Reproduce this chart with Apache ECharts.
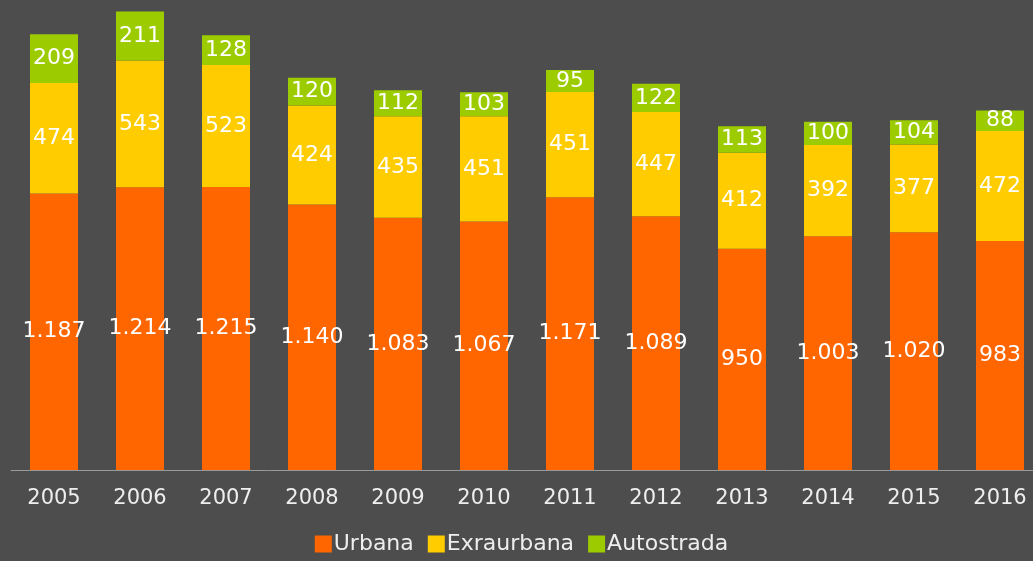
<!DOCTYPE html>
<html>
<head>
<meta charset="utf-8">
<script src="https://cdn.jsdelivr.net/npm/echarts@6/dist/echarts.min.js"></script>
<style>
html, body { margin: 0; padding: 0; background: #4d4d4d; overflow: hidden; }
/* l'ultima colonna esce un po' dal bordo destro, come nell'originale */
#chart { width: 1043px; height: 561px; }
</style>
</head>
<body>
<div id="chart"></div>
<script>
var anni = ['2005', '2006', '2007', '2008', '2009', '2010', '2011', '2012', '2013', '2014', '2015', '2016'];
var urbana = [1187, 1214, 1215, 1140, 1083, 1067, 1171, 1089, 950, 1003, 1020, 983];
var extraurbana = [474, 543, 523, 424, 435, 451, 451, 447, 412, 392, 377, 472];
var autostrada = [209, 211, 128, 120, 112, 103, 95, 122, 113, 100, 104, 88];

// separatore migliaia col punto
var fmt = function (p) {
    var s = String(p.value);
    return s.replace(/\B(?=(\d{3})+(?!\d))/g, '.');
};

var chart = echarts.init(document.getElementById('chart'));

var labelStyle = {
    show: true,
    position: 'inside',
    color: '#fff',
    fontFamily: 'DejaVu Sans',
    fontSize: 22,
    formatter: fmt
};

option = {
    backgroundColor: '#4d4d4d',
    animation: false,
    grid: {
        left: 11,
        right: 0,
        top: 4,
        bottom: 91,
        containLabel: false
    },
    legend: {
        bottom: 1,
        left: 'center',
        icon: 'rect',
        itemWidth: 17,
        itemHeight: 17,
        itemGap: 14,
        textStyle: {
            color: '#eee',
            fontFamily: 'DejaVu Sans',
            fontSize: 22,
            padding: [0, 0, 0, -3]
        },
        data: ['Urbana', 'Exraurbana', 'Autostrada']
    },
    xAxis: {
        type: 'category',
        data: anni,
        axisLine: { lineStyle: { color: '#999', width: 1 } },
        axisTick: { show: false },
        axisLabel: {
            color: '#eee',
            fontFamily: 'DejaVu Sans',
            fontSize: 21,
            margin: 18
        }
    },
    yAxis: {
        type: 'value',
        min: 0,
        max: 2000,
        show: false,
        splitLine: { show: false }
    },
    series: [
        {
            name: 'Urbana',
            type: 'bar',
            stack: 'tot',
            barWidth: 48,
            data: urbana,
            itemStyle: { color: '#ff6600' },
            label: labelStyle
        },
        {
            name: 'Exraurbana',
            type: 'bar',
            stack: 'tot',
            barWidth: 48,
            data: extraurbana,
            itemStyle: { color: '#ffcc00' },
            label: labelStyle
        },
        {
            name: 'Autostrada',
            type: 'bar',
            stack: 'tot',
            barWidth: 48,
            data: autostrada,
            itemStyle: { color: '#9ccc00' },
            label: labelStyle
        }
    ]
};

chart.setOption(option);
window.addEventListener('resize', function () {
    chart.resize();
});
</script>
</body>
</html>
